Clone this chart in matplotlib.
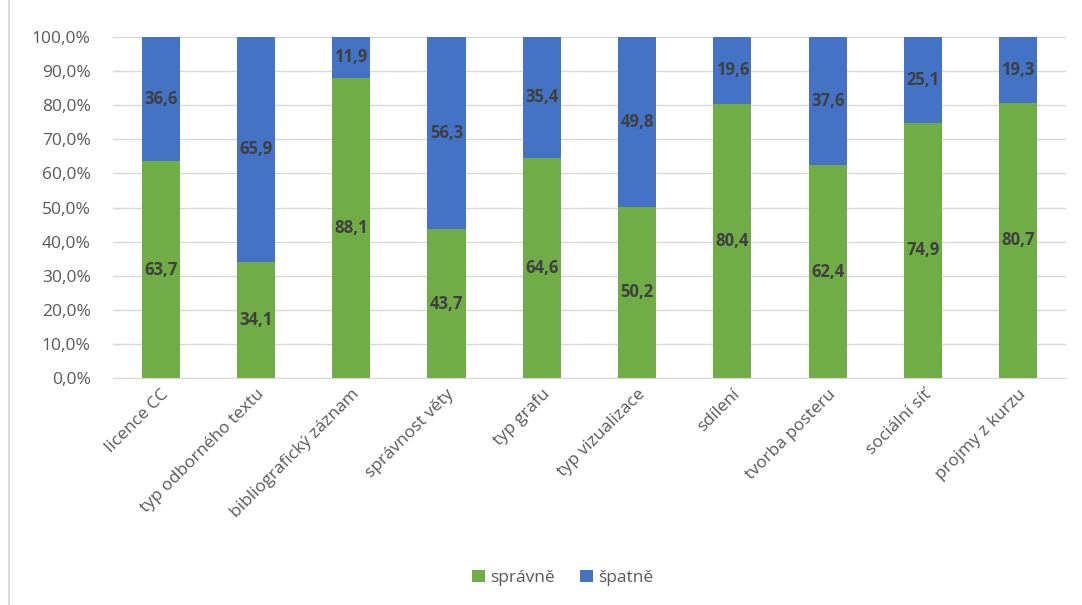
import numpy as np
import matplotlib.pyplot as plt
from matplotlib.ticker import FuncFormatter
from matplotlib.lines import Line2D

categories = ["licence CC", "typ odborného textu", "bibliografický záznam",
              "správnost věty", "typ grafu", "typ vizualizace", "sdílení",
              "tvorba posteru", "sociální síť", "projmy z kurzu"]
spravne = [63.7, 34.1, 88.1, 43.7, 64.6, 50.2, 80.4, 62.4, 74.9, 80.7]
spatne = [36.6, 65.9, 11.9, 56.3, 35.4, 49.8, 19.6, 37.6, 25.1, 19.3]

GREEN = "#70AD47"
BLUE = "#4472C4"
TXT = "#595959"

plt.rcParams['font.family'] = ['Open Sans', 'DejaVu Sans']

def main():
    ok = np.array(spravne)
    bad = np.array(spatne)
    total = ok + bad
    ok_pct = ok / total * 100
    bad_pct = bad / total * 100

    fig = plt.figure(figsize=(10.82, 6.05), dpi=100)
    ax = fig.add_axes([0.1044, 0.375, 0.8806, 0.564])
    x = np.arange(len(categories))
    w = 0.4
    ax.bar(x, ok_pct, w, color=GREEN, label="správně", zorder=2)
    ax.bar(x, bad_pct, w, bottom=ok_pct, color=BLUE, label="špatně", zorder=2)

    # data labels
    for i in range(len(categories)):
        ax.text(x[i], ok_pct[i] / 2, f"{spravne[i]:.1f}".replace(".", ","),
                ha="center", va="center", fontsize=12, fontweight="bold",
                color="#404040", zorder=3)
        ax.text(x[i], ok_pct[i] + bad_pct[i] / 2, f"{spatne[i]:.1f}".replace(".", ","),
                ha="center", va="center", fontsize=12, fontweight="bold",
                color="#404040", zorder=3)

    ax.set_xlim(-0.5, len(categories) - 0.5)
    ax.set_ylim(0, 100)
    ax.set_yticks(np.arange(0, 101, 10))
    ax.yaxis.set_major_formatter(FuncFormatter(lambda v, p: f"{v:.1f}%".replace(".", ",")))
    ax.grid(axis="y", color="#D9D9D9", linewidth=1, zorder=0)
    for s in ["top", "right", "left"]:
        ax.spines[s].set_visible(False)
    ax.spines["bottom"].set_color("#D9D9D9")
    ax.tick_params(axis="both", length=0, labelsize=12.5, colors=TXT)
    ax.tick_params(axis="y", pad=16)
    ax.tick_params(axis="x", pad=6)
    ax.set_xticks(x)
    ax.set_xticklabels(categories, rotation=45, ha="right", rotation_mode="anchor")

    fig.legend(loc="center", bbox_to_anchor=(0.52, 0.045), ncol=2, frameon=False,
               fontsize=12.5, labelcolor=TXT, handlelength=0.7, handleheight=0.7,
               handletextpad=0.3, columnspacing=1.5)

    # chart border on the left
    fig.add_artist(Line2D([0.008, 0.008], [0.0, 1.0], transform=fig.transFigure,
                          color="#D9D9D9", linewidth=1.5))

    fig.savefig("out.png", dpi=100)


if __name__ == "__main__":
    main()
